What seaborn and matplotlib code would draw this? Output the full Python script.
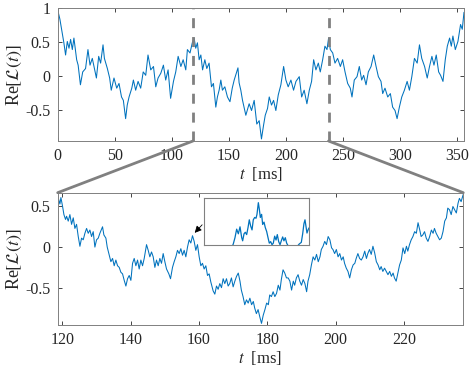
import numpy as np
import matplotlib
matplotlib.use('Agg')
import matplotlib.pyplot as plt
import seaborn as sns
from matplotlib.patches import ConnectionPatch

# full record
t_full = [0, 2, 4, 5.5, 7, 8.5, 10, 11.4, 12.9, 14.3, 16.7, 18, 20, 22, 24.5, 26.6, 28.4, 30.4,
          32.5, 34, 36, 37.7, 39.8, 41, 43.6, 45.6, 47, 49.4, 51.8, 53.8, 56, 57.6, 59.6, 61,
          62.6, 65, 66.4, 68.4, 70.5, 72.8, 75, 77.2, 79.2, 81.6, 84, 86, 88, 90.4, 92.7, 94.7,
          96.8, 99, 101.5, 103.5, 105.6, 108, 110, 112.3, 113.7, 116, 118, 119.6, 121, 122.5,
          124, 125.5, 127, 129, 130.7, 132.7, 134.8, 136.5, 138.6, 140, 141.5, 143, 144.4, 146.5,
          148.8, 151, 153, 154.7, 156, 158, 159, 160.5, 162, 164.9, 167.8, 169.9, 172.2, 174.5,
          176.6, 178.6, 180.4, 181.9, 183.9, 185.4, 187.4, 189.2, 191.2, 193.3, 195.6, 198, 200,
          202, 204.4, 206.7, 208.8, 211.7, 213.8, 216, 218.4, 220.5, 222.5, 224.3, 226.3, 228.4,
          230.1, 232.2, 234.2, 236, 237.4, 238.9, 241, 243, 245.3, 247.7, 249.7, 251.8, 254.1,
          256.4, 257.9, 259.9, 262.3, 264.3, 266.4, 268.1, 270.2, 272.2, 274.6, 276.9, 279, 281,
          283.3, 284.8, 286.8, 289.2, 291.5, 293.5, 295.6, 297.4, 299.4, 301.5, 303.8, 306.2,
          308.2, 310.3, 312.6, 315, 317, 319, 321.5, 323.8, 325.8, 327.9, 329.7, 331.7, 333.8,
          335.5, 337.6, 339.6, 341.4, 343.4, 344.9, 346.3, 348.4, 350.7, 353, 354.5, 356]
re_full = [0.98, 0.84, 0.64, 0.49, 0.31, 0.51, 0.41, 0.54, 0.39, 0.56, 0.24, 0.16, -0.13, 0.06,
           0.11, 0.39, 0.16, 0.26, 0.09, -0.03, 0.29, 0.19, 0.46, 0.26, 0.11, -0.03, -0.21, -0.03,
           -0.18, -0.11, -0.31, -0.36, -0.63, -0.43, -0.31, -0.18, -0.06, -0.21, -0.08, -0.18,
           0.06, 0.01, 0.31, 0.09, 0.14, -0.16, -0.03, 0.04, 0.16, -0.06, 0.09, -0.33, -0.08,
           0.06, 0.29, 0.14, 0.24, 0.09, 0.39, 0.34, 0.49, 0.56, 0.41, 0.49, 0.24, 0.31, 0.09,
           0.24, 0.11, 0.19, -0.16, -0.11, -0.46, -0.31, -0.21, -0.06, -0.21, -0.16, -0.31,
           -0.38, -0.18, -0.06, 0.01, 0.12, -0.10, -0.21, -0.36, -0.58, -0.41, -0.51, -0.36,
           -0.71, -0.66, -0.93, -0.73, -0.58, -0.48, -0.31, -0.43, -0.36, -0.51, -0.28, -0.13,
           0.14, -0.06, -0.16, -0.06, -0.21, -0.08, -0.01, -0.31, -0.21, -0.41, -0.21, -0.08,
           0.24, 0.09, 0.19, 0.06, 0.24, 0.44, 0.39, 0.56, 0.39, 0.34, 0.19, 0.26, 0.14, 0.24,
           0.06, -0.11, -0.18, -0.31, -0.06, -0.01, 0.14, -0.06, 0.01, -0.13, 0.06, 0.14, 0.31,
           0.14, -0.01, -0.08, -0.26, -0.18, -0.31, -0.26, -0.46, -0.51, -0.63, -0.46, -0.31,
           -0.21, -0.08, -0.21, -0.01, 0.26, 0.19, 0.46, 0.26, 0.14, -0.03, 0.14, 0.29, 0.16,
           0.31, 0.06, 0.01, -0.08, 0.24, 0.44, 0.56, 0.44, 0.59, 0.39, 0.51, 0.76, 0.69, 0.94]

# middle third
t_zoom = [118.67, 118.93, 119.32, 119.61, 120.1, 120.49, 120.97, 121.27, 121.75, 122.24, 122.73,
          123.22, 123.7, 124.19, 124.68, 125.17, 125.65, 126.14, 126.63, 127.12, 127.6, 128.09,
          128.58, 129.06, 129.55, 130.04, 130.53, 131.01, 131.79, 132.18, 132.77, 133.16, 133.74,
          134.23, 134.72, 135.2, 135.69, 136.18, 136.67, 137.15, 137.64, 138.13, 138.62, 139.1,
          139.59, 140.08, 140.57, 141.05, 141.54, 142.03, 142.51, 143.0, 143.49, 143.98, 144.66,
          145.15, 145.63, 146.12, 146.61, 147.1, 147.58, 148.07, 148.56, 149.04, 149.53, 150.02,
          150.51, 151.19, 151.68, 152.26, 152.75, 153.24, 153.72, 154.21, 154.7, 155.19, 155.67,
          156.16, 156.65, 157.13, 157.62, 158.11, 158.6, 159.08, 159.57, 160.06, 160.55, 161.03,
          161.52, 162.01, 162.5, 162.98, 163.47, 164.15, 164.64, 165.13, 165.61, 166.1, 166.59,
          167.08, 167.56, 168.05, 168.54, 169.0, 169.5, 170.0, 170.5, 171.0, 171.5, 172.0, 172.4,
          172.9, 173.4, 173.9, 174.4, 174.9, 175.4, 175.9, 176.3, 176.8, 177.3, 177.8, 178.3,
          178.8, 179.3, 179.8, 180.3, 180.7, 181.2, 181.7, 182.2, 182.7, 183.2, 183.7, 184.1,
          184.6, 185.1, 185.6, 186.1, 186.6, 187.1, 187.6, 188.0, 188.5, 189.0, 189.5, 190.0,
          190.5, 191.0, 191.5, 191.9, 192.4, 192.9, 193.4, 193.9, 194.4, 194.9, 195.4, 195.8,
          196.3, 196.8, 197.3, 197.8, 198.3, 198.8, 199.2, 199.7, 200.2, 200.7, 201.2, 201.7,
          202.2, 202.6, 203.1, 203.6, 204.1, 204.6, 205.1, 205.6, 206.0, 206.5, 207.0, 207.5,
          208.0, 208.5, 209.0, 209.4, 209.9, 210.4, 210.9, 211.4, 211.9, 212.4, 212.9, 213.3,
          213.8, 214.3, 214.8, 215.3, 215.8, 216.3, 216.8, 217.2, 217.7, 218.2, 218.7, 219.2,
          219.7, 220.2, 220.7, 221.1, 221.6, 222.1, 222.6, 223.1, 223.6, 224.1, 224.6, 225.0,
          225.5, 226.0, 226.5, 227.0, 227.5, 228.0, 228.5, 228.9, 229.4, 229.9, 230.4, 230.9,
          231.4, 231.9, 232.4, 232.8, 233.3, 233.8, 234.3, 234.8, 235.3, 235.8, 236.2, 236.7,
          237.33]
re_zoom = [0.65, 0.59, 0.53, 0.61, 0.5, 0.4, 0.34, 0.38, 0.32, 0.4, 0.28, 0.36, 0.23, 0.28, 0.13,
           0.01, 0.11, 0.09, 0.17, 0.23, 0.17, 0.21, 0.13, 0.19, 0.0, 0.09, 0.11, 0.17, 0.25, 0.15,
           0.11, 0.0, -0.1, -0.18, -0.14, -0.23, -0.16, -0.23, -0.25, -0.31, -0.33, -0.41, -0.48,
           -0.39, -0.35, -0.41, -0.2, -0.14, -0.23, -0.16, -0.27, -0.16, -0.23, -0.14, 0.03,
           -0.04, -0.12, -0.06, -0.12, -0.25, -0.16, -0.23, -0.14, -0.2, -0.08, -0.18, -0.27,
           -0.33, -0.39, -0.25, -0.18, -0.12, -0.04, -0.08, -0.02, -0.1, -0.04, -0.12, 0.0, 0.09,
           0.05, 0.14, 0.07, -0.04, 0.03, -0.12, -0.23, -0.2, -0.27, -0.23, -0.35, -0.33, -0.43,
           -0.54, -0.58, -0.48, -0.52, -0.45, -0.5, -0.39, -0.45, -0.39, -0.48, -0.45, -0.38,
           -0.49, -0.42, -0.36, -0.32, -0.42, -0.53, -0.61, -0.71, -0.65, -0.69, -0.63, -0.71,
           -0.67, -0.75, -0.82, -0.77, -0.86, -0.94, -0.84, -0.77, -0.69, -0.71, -0.59, -0.61,
           -0.55, -0.61, -0.57, -0.47, -0.53, -0.4, -0.28, -0.32, -0.38, -0.38, -0.42, -0.53,
           -0.42, -0.47, -0.38, -0.34, -0.42, -0.47, -0.4, -0.45, -0.55, -0.42, -0.34, -0.22,
           -0.12, -0.16, -0.09, -0.18, -0.12, -0.03, 0.01, 0.07, 0.03, 0.13, 0.09, -0.01, -0.03,
           -0.08, -0.03, -0.12, -0.08, -0.16, -0.12, -0.2, -0.26, -0.3, -0.38, -0.28, -0.22,
           -0.2, -0.14, -0.08, -0.14, -0.16, -0.12, -0.05, -0.14, -0.08, -0.03, -0.09, 0.01,
           -0.07, -0.18, -0.22, -0.28, -0.24, -0.3, -0.26, -0.3, -0.34, -0.3, -0.36, -0.32,
           -0.38, -0.42, -0.32, -0.22, -0.16, -0.01, -0.08, 0.01, -0.05, 0.03, 0.09, 0.13, 0.19,
           0.17, 0.3, 0.21, 0.13, 0.15, 0.19, 0.11, 0.07, 0.13, 0.21, 0.17, 0.23, 0.17, 0.13,
           0.09, 0.11, 0.19, 0.32, 0.36, 0.48, 0.46, 0.4, 0.5, 0.46, 0.42, 0.54, 0.6, 0.56, 0.65]

# close-up around the local peak near 158 ms (inset)
t_inset = [157.6, 157.752, 157.863, 157.878, 157.894, 157.91, 157.926, 157.942, 157.958,
           157.967, 157.98, 157.992, 158.005, 158.018, 158.03, 158.043, 158.056, 158.068,
           158.081, 158.094, 158.103, 158.116, 158.125, 158.135, 158.147, 158.157, 158.17,
           158.182, 158.195, 158.208, 158.22, 158.233, 158.246, 158.258, 158.271, 158.284,
           158.296, 158.309, 158.322, 158.334, 158.347, 158.359, 158.372, 158.385, 158.397,
           158.41, 158.448, 158.48, 158.505, 158.524, 158.537, 158.549, 158.559, 158.568,
           158.578, 158.591, 158.6]
re_inset = [0.094, 0.092, 0.096, 0.101, 0.109, 0.12, 0.114, 0.123, 0.109, 0.105, 0.114, 0.116,
            0.113, 0.122, 0.132, 0.124, 0.119, 0.132, 0.135, 0.134, 0.139, 0.154, 0.146, 0.135,
            0.139, 0.126, 0.129, 0.122, 0.117, 0.109, 0.102, 0.104, 0.1, 0.102, 0.111, 0.106,
            0.113, 0.104, 0.1, 0.105, 0.11, 0.105, 0.109, 0.102, 0.099, 0.097, 0.094, 0.097,
            0.101, 0.103, 0.114, 0.127, 0.132, 0.124, 0.115, 0.12, 0.122]

zoom_lo, zoom_hi = 356 / 3, 2 * 356 / 3
peak_t, peak_re = 158.2, 0.15

sns.set_style('ticks')
plt.rcParams['font.family'] = ['Liberation Serif', 'DejaVu Serif']
plt.rcParams['mathtext.fontset'] = 'stix'
plt.rcParams['xtick.direction'] = 'in'
plt.rcParams['ytick.direction'] = 'in'
plt.rcParams['xtick.top'] = True
plt.rcParams['ytick.right'] = True

blue = '#0072BD'
edge = '0.5'
txt = '0.15'

fig = plt.figure(figsize=(4.69, 3.71), dpi=100)
ax1 = fig.add_axes([0.1228, 0.62, 0.8665, 0.3577])
ax2 = fig.add_axes([0.123, 0.124, 0.8648, 0.3566])
axin = fig.add_axes([0.435, 0.3404, 0.2245, 0.1259])

sns.lineplot(x=t_full, y=re_full, ax=ax1, color=blue, lw=0.75, estimator=None, sort=False)
sns.lineplot(x=t_zoom, y=re_zoom, ax=ax2, color=blue, lw=0.75, estimator=None, sort=False)
sns.lineplot(x=t_inset, y=re_inset, ax=axin, color=blue, lw=0.9, estimator=None, sort=False)

ax1.set_xlim(0, 356)
ax1.set_ylim(-0.96, 1.0)
ax1.set_xticks(np.arange(0, 351, 50))
ax1.set_yticks([-0.5, 0, 0.5, 1])
ax1.set_yticklabels(['-0.5', '0', '0.5', '1'])

ax2.set_xlim(zoom_lo, zoom_hi)
ax2.set_ylim(-0.96, 0.67)
ax2.set_xticks(np.arange(120, 221, 20))
ax2.set_yticks([-0.5, 0, 0.5])
ax2.set_yticklabels(['-0.5', '0', '0.5'])

for ax in (ax1, ax2):
    ax.set_xlabel(r'$t$  [ms]', fontsize=12, color=txt, labelpad=1)
    ax.set_ylabel(r'Re$[\mathcal{L}(t)]$', fontsize=13, color=txt, labelpad=1)
    ax.tick_params(labelsize=11.5, colors=txt, length=3, width=0.6, pad=5)
    for s in ax.spines.values():
        s.set_color(edge)
        s.set_linewidth(0.7)

axin.set_xlim(t_inset[0], t_inset[-1])
axin.set_ylim(0.1, 0.16)
axin.set_xticks([])
axin.set_yticks([])
axin.set_xlabel('')
axin.set_ylabel('')
for s in axin.spines.values():
    s.set_color(edge)
    s.set_linewidth(0.8)

# dashed markers of the zoomed window
for xv in (zoom_lo, zoom_hi):
    ax1.axvline(xv, color='0.5', lw=2.0, ls=(0, (3.6, 3.2)))

# lines joining the window to the lower panel
con1 = ConnectionPatch(xyA=(zoom_lo, -0.96), coordsA=ax1.transData,
                       xyB=(0, 1), coordsB=ax2.transAxes, color='0.5', lw=2.0)
con2 = ConnectionPatch(xyA=(zoom_hi, -0.96), coordsA=ax1.transData,
                       xyB=(1, 1), coordsB=ax2.transAxes, color='0.5', lw=2.0)
fig.add_artist(con1)
fig.add_artist(con2)

ax2.annotate('', xy=(peak_t, peak_re), xycoords='data',
             xytext=(0, 0.47), textcoords=axin.transAxes,
             arrowprops=dict(arrowstyle='-|>', color='k', lw=0.6, mutation_scale=10))

fig.savefig('out.png', dpi=100)
